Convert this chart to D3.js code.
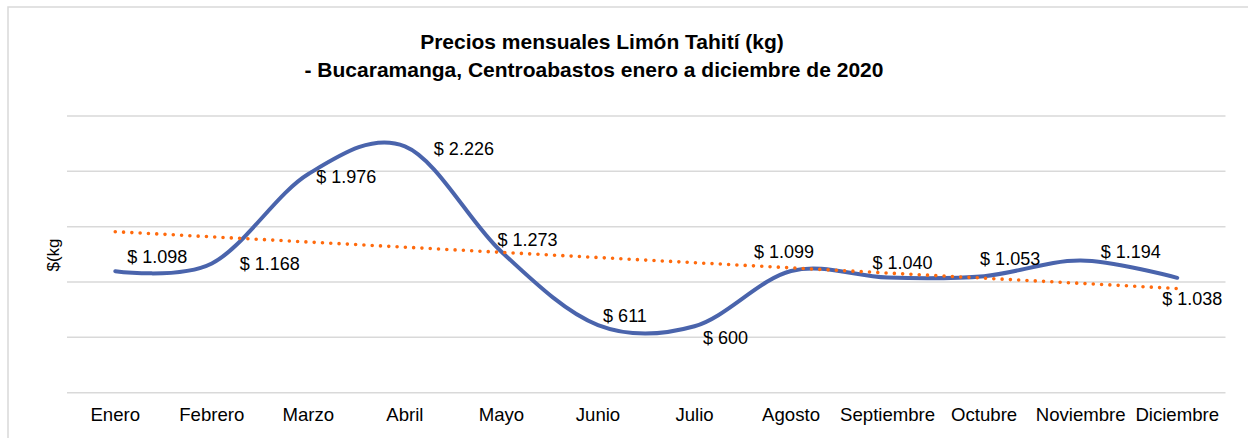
<!DOCTYPE html>
<html>
<head>
<meta charset="utf-8">
<script src="https://cdn.jsdelivr.net/npm/d3@7"></script>
<style>
  body { margin: 0; background: #fff; }
  svg { display: block; font-family: "Liberation Sans", Arial, sans-serif; }
</style>
</head>
<body>
<svg width="1248" height="438"></svg>
<script>
// Data
var months = ["Enero", "Febrero", "Marzo", "Abril", "Mayo", "Junio", "Julio",
  "Agosto", "Septiembre", "Octubre", "Noviembre", "Diciembre"];
var prices = [1098, 1168, 1976, 2226, 1273, 611, 600, 1099, 1040, 1053, 1194, 1038];
var yTicks = [0, 500, 1000, 1500, 2000, 2500];
// label offsets from the point (pixels), Excel put them all over the place
var labelDx = [42, 58, 38, 59, 26, 27, 31, -7, 15, 26, 50, 15];
var labelDy = [-14, 0, 3, 2, -12, -9, 11, -19, -15, -17, -9, 21];

const svg = d3.select('svg');

// chart border
svg.append('rect')
  .attr('x', 8).attr('y', 7).attr('width', 1260).attr('height', 460)
  .attr('fill', 'none').attr('stroke', '#d9d9d9').attr('stroke-width', 1.5);

var plotLeft = 67, plotRight = 1225.5, plotTop = 116, plotBottom = 392.7;

const xScale = d3.scaleBand().domain(months).range([plotLeft, plotRight]);
const yScale = d3.scaleLinear().domain([0, 2500]).range([plotBottom, plotTop]);
const cx = d => xScale(d) + xScale.bandwidth() / 2;

// gridlines
svg.selectAll('.grid')
  .data(yTicks)
  .enter()
  .append('line')
  .attr('x1', plotLeft).attr('x2', plotRight)
  .attr('y1', d => yScale(d)).attr('y2', d => yScale(d))
  .attr('stroke', '#d9d9d9').attr('stroke-width', 1.5);

// x axis labels
svg.selectAll('.xlab')
  .data(months)
  .enter()
  .append('text')
  .attr('x', d => cx(d))
  .attr('y', 421)
  .attr('text-anchor', 'middle')
  .style('font-size', '18.6px')
  .attr('fill', '#000')
  .text(d => d);

// title
var title = svg.append('text')
  .attr('text-anchor', 'middle')
  .style('font-size', '21px')
  .style('font-weight', 'bold')
  .attr('fill', '#000');
title.append('tspan').attr('x', 602).attr('y', 49).text('Precios mensuales Limón Tahití (kg)');
title.append('tspan').attr('x', 594).attr('y', 77).text('- Bucaramanga, Centroabastos enero a diciembre de 2020');

// y axis title
svg.append('text')
  .attr('transform', 'translate(59,255) rotate(-90)')
  .attr('text-anchor', 'middle')
  .style('font-size', '17px')
  .attr('fill', '#000')
  .text('$(kg');

// trendline (least squares)
var n = prices.length;
var mx = d3.mean(prices, (d, i) => i);
var my = d3.mean(prices);
var sxy = d3.sum(prices, (d, i) => (i - mx) * (d - my));
var sxx = d3.sum(prices, (d, i) => (i - mx) * (i - mx));
var slope = sxy / sxx;
var trend = [0, n - 1].map(i => ({ x: cx(months[i]), v: my + slope * (i - mx) }));

// smooth line
const line = d3.line()
  .x((d, i) => cx(months[i]))
  .y(d => yScale(d))
  .curve(d3.curveCardinal.tension(0));

svg.append('path')
  .datum(prices)
  .attr('d', line)
  .attr('fill', 'none')
  .attr('stroke', '#4a64ac')
  .attr('stroke-width', 4)
  .attr('stroke-linecap', 'round');

svg.append('line')
  .attr('x1', trend[0].x).attr('y1', yScale(trend[0].v))
  .attr('x2', trend[1].x).attr('y2', yScale(trend[1].v))
  .attr('stroke', '#ff6a0d')
  .attr('stroke-width', 3.6)
  .attr('stroke-linecap', 'round')
  .attr('stroke-dasharray', '0 8.3');

// data labels
const fmt = v => '$ ' + d3.format(',')(v).replace(/,/g, '.');
svg.selectAll('.lbl')
  .data(prices)
  .enter()
  .append('text')
  .attr('x', (d, i) => cx(months[i]) + labelDx[i])
  .attr('y', (d, i) => yScale(d) + labelDy[i])
  .attr('dy', '0.35em')
  .attr('text-anchor', 'middle')
  .style('font-size', '18px')
  .attr('fill', '#000')
  .text(d => fmt(d));
</script>
</body>
</html>
